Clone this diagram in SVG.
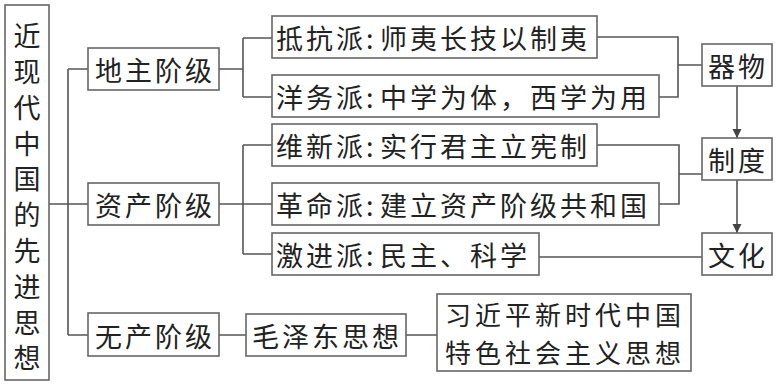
<svg xmlns="http://www.w3.org/2000/svg" width="777" height="385" viewBox="0 0 777 385">
<defs>
<style>
.box{fill:#fff;stroke:#666;stroke-width:1.6}
.ln{fill:none;stroke:#555;stroke-width:1.6}
text{font-family:"Noto Sans CJK SC","Noto Sans CJK JP",sans-serif;font-size:27px;fill:#222;dominant-baseline:central;letter-spacing:3px}
.v{writing-mode:vertical-rl;letter-spacing:8.8px;dominant-baseline:auto}
.x2{font-size:26px;letter-spacing:4px}
</style>
<marker id="arr" viewBox="0 0 10 10" refX="10" refY="5" markerWidth="9" markerHeight="11" markerUnits="userSpaceOnUse" orient="auto">
<path d="M0,0 L10,5 L0,10 Z" fill="#444"/>
</marker>
</defs>
<rect width="777" height="385" fill="#fff"/>
<g id="connectors">
<path class="ln" d="M49 204 H68 M68 69 V335 M68 69 H88 M68 204 H88 M68 335 H88"/>
<path class="ln" d="M219 69 H243 M243 38 V97 M243 38 H272 M243 97 H272"/>
<path class="ln" d="M219 204 H243 M243 145 V254 M243 145 H272 M243 204 H272 M243 254 H272"/>
<path class="ln" d="M597 37 H678 V97 H659 M678 65 H702"/>
<path class="ln" d="M597 145 H679 V204 H659 M679 174 H702"/>
<path class="ln" d="M539 257 H702"/>
<path class="ln" d="M219 335 H246 M406 335 H437"/>
<path class="ln" d="M737 86 V138" marker-end="url(#arr)"/>
<path class="ln" d="M737 180 V233" marker-end="url(#arr)"/>
</g>
<g id="root">
<rect class="box" x="5" y="5" width="44" height="375"/>
<text class="v" x="27" y="22.5">近现代中国的先进思想</text>
</g>
<g id="dizhu"><rect class="box" x="88" y="48" width="131" height="42"/><text x="95" y="69">地主阶级</text></g>
<g id="zichan"><rect class="box" x="88" y="183" width="131" height="42"/><text x="95" y="204">资产阶级</text></g>
<g id="wuchan"><rect class="box" x="88" y="313" width="131" height="43"/><text x="95" y="335">无产阶级</text></g>
<g id="dikang"><rect class="box" x="272" y="16" width="325" height="42"/><text x="276" y="37">抵抗派:<tspan x="380">师夷长技以制夷</tspan></text></g>
<g id="yangwu"><rect class="box" x="272" y="75" width="387" height="42"/><text x="276" y="96">洋务派:<tspan x="380">中学为体，西学为用</tspan></text></g>
<g id="weixin"><rect class="box" x="272" y="124" width="325" height="42"/><text x="276" y="145">维新派:<tspan x="380">实行君主立宪制</tspan></text></g>
<g id="geming"><rect class="box" x="272" y="183" width="387" height="42"/><text x="276" y="204">革命派:<tspan x="380">建立资产阶级共和国</tspan></text></g>
<g id="jijin"><rect class="box" x="272" y="233" width="267" height="42"/><text x="276" y="254">激进派:<tspan x="380">民主、科学</tspan></text></g>
<g id="qiwu"><rect class="box" x="702" y="44" width="70" height="42"/><text x="708" y="65">器物</text></g>
<g id="zhidu"><rect class="box" x="702" y="138" width="70" height="42"/><text x="708" y="159">制度</text></g>
<g id="wenhua"><rect class="box" x="702" y="233" width="70" height="42"/><text x="708" y="254">文化</text></g>
<g id="mao"><rect class="box" x="246" y="314" width="160" height="42"/><text x="252" y="335">毛泽东思想</text></g>
<g id="xi"><rect class="box" x="437" y="294" width="254" height="77"/><text class="x2" x="445" y="313.5">习近平新时代中国</text><text class="x2" x="445" y="351.5">特色社会主义思想</text></g>
</svg>
